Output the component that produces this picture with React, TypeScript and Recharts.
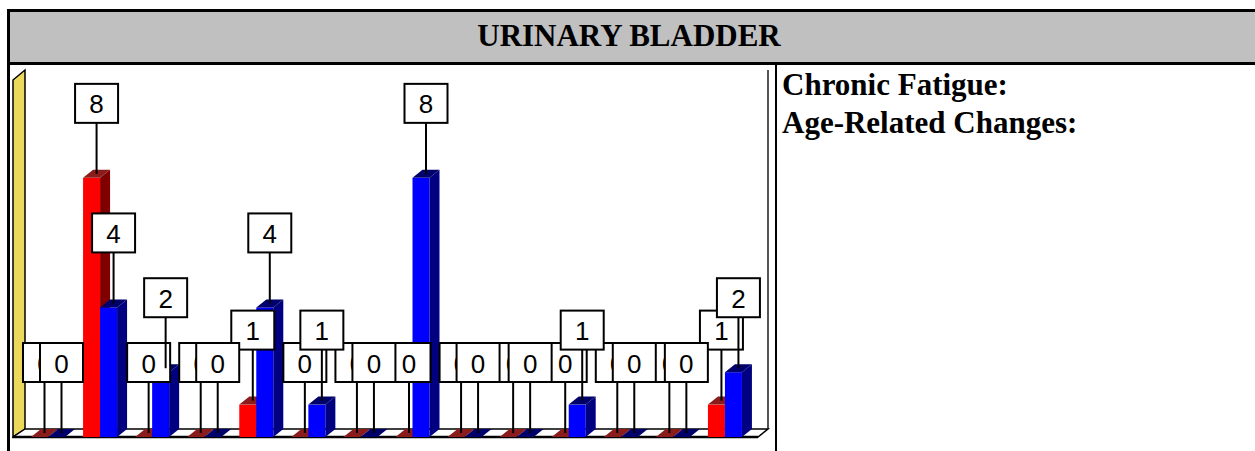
import { BarChart, Bar, XAxis, YAxis, LabelList } from "recharts"

// one entry per group on the chart floor, left to right
const categories = ["1", "2", "3", "4", "5", "6", "7", "8", "9", "10", "11", "12", "13", "14"]
const redValues = [0, 8, 0, 0, 1, 0, 0, 0, 0, 0, 0, 0, 0, 1]
const blueValues = [0, 4, 2, 0, 4, 1, 0, 8, 0, 0, 1, 0, 0, 2]
const TITLE = "URINARY BLADDER"
const notes = ["Chronic Fatigue:", "Age-Related Changes:"]

const data = categories.map((name, i) => ({ name, red: redValues[i], blue: blueValues[i] }))

const CHART_W = 763
const CHART_H = 385
const MARGIN = { top: 4, right: 24, bottom: 14, left: 10 }
const Y_MAX = 11.33
const DX = 10
const DY = 8

const RED = { front: "#ff0000", side: "#800000", top: "#8a1c1c" }
const BLUE = { front: "#0000ff", side: "#000080", top: "#00006a" }

const serif = "'Liberation Serif', 'Times New Roman', serif"

function Bar3D(props: any) {
  const { x, y, width: w, height: h, colors } = props
  if (x == null || y == null) return <g />
  return (
    <g>
      <rect x={x} y={y} width={w} height={h} fill={colors.front} />
      <polygon
        points={`${x + w},${y} ${x + w + DX},${y - DY} ${x + w + DX},${y + h - DY} ${x + w},${y + h}`}
        fill={colors.side}
      />
      <polygon
        points={`${x},${y} ${x + DX},${y - DY} ${x + w + DX},${y - DY} ${x + w},${y}`}
        fill={colors.top}
      />
    </g>
  )
}

function Callout(props: any) {
  const vb = props.viewBox ?? props
  const x = vb.x ?? props.x
  const y = vb.y ?? props.y
  const w = vb.width ?? props.width
  const cx = x + w / 2 + DX / 2
  const boxBottom = y - 55
  const bw = 43
  const bh = 39
  return (
    <g>
      <line x1={cx} x2={cx} y1={boxBottom} y2={y - DY / 2} stroke="#000" strokeWidth={2} />
      <rect x={cx - bw / 2} y={boxBottom - bh} width={bw} height={bh} fill="#fff" stroke="#000" strokeWidth={2} />
      <text
        x={cx}
        y={boxBottom - bh / 2 + 1}
        textAnchor="middle"
        dominantBaseline="central"
        fontSize={26}
        fontFamily="'Liberation Sans', Arial, sans-serif"
        fill="#000"
      >
        {props.value}
      </text>
    </g>
  )
}

// floor and walls behind the bars, in the chart's own coordinates
function Backdrop() {
  const floorFront = CHART_H - MARGIN.bottom
  const floorBack = floorFront - DY
  const leftFront = MARGIN.left - 9
  const leftBack = leftFront + 12
  const rightFront = CHART_W - MARGIN.right + 7
  const rightBack = rightFront + DX
  return (
    <svg width={CHART_W} height={CHART_H} style={{ position: "absolute", left: 0, top: 0 }}>
      <line x1={rightBack} x2={rightBack} y1={MARGIN.top} y2={floorBack} stroke="#555" strokeWidth={2} />
      <polygon
        points={`${leftFront},${MARGIN.top + 10} ${leftBack},${MARGIN.top} ${leftBack},${floorBack} ${leftFront},${floorFront}`}
        fill="#ecd95c"
        stroke="#000"
        strokeWidth={1.5}
      />
      <polygon
        points={`${leftFront},${floorFront} ${rightFront},${floorFront} ${rightBack},${floorBack} ${leftBack},${floorBack}`}
        fill="#fff"
        stroke="#000"
        strokeWidth={1.5}
      />
      <line x1={leftFront} x2={rightFront} y1={floorFront} y2={floorFront} stroke="#000" strokeWidth={2.5} />
    </svg>
  )
}

function Chart3D({ labels }: { labels: boolean }) {
  const empty = () => <g />
  return (
    <BarChart width={CHART_W} height={CHART_H} data={data} margin={MARGIN} barSize={17} barGap={0}>
      <XAxis dataKey="name" hide />
      <YAxis hide domain={[0, Y_MAX]} allowDataOverflow />
      <Bar
        dataKey="red"
        isAnimationActive={false}
        shape={labels ? empty : (p: any) => <Bar3D {...p} colors={RED} />}
      >
        {labels && <LabelList dataKey="red" content={Callout} />}
      </Bar>
      <Bar
        dataKey="blue"
        isAnimationActive={false}
        shape={labels ? empty : (p: any) => <Bar3D {...p} colors={BLUE} />}
      >
        {labels && <LabelList dataKey="blue" content={Callout} />}
      </Bar>
    </BarChart>
  )
}

export default function App() {
  return (
    <div style={{ position: "absolute", left: 0, top: 0, width: 1255, height: 451, overflow: "hidden", background: "#fff" }}>
      <div
        style={{
          position: "absolute",
          left: 7,
          top: 9,
          width: 1300,
          height: 500,
          border: "3px solid #000",
          boxSizing: "border-box",
        }}
      />
      <div
        style={{
          position: "absolute",
          left: 10,
          top: 12,
          width: 1300,
          height: 53,
          background: "#c0c0c0",
          borderBottom: "3px solid #000",
          boxSizing: "border-box",
        }}
      />
      <div
        style={{
          position: "absolute",
          left: 10,
          top: 11,
          width: 1238,
          height: 50,
          lineHeight: "50px",
          textAlign: "center",
          fontFamily: serif,
          fontWeight: "bold",
          fontSize: 31,
          color: "#000",
        }}
      >
        {TITLE}
      </div>
      <div style={{ position: "absolute", left: 775, top: 65, width: 2, height: 400, background: "#000" }} />
      <div
        style={{
          position: "absolute",
          left: 782,
          top: 65.5,
          fontFamily: serif,
          fontWeight: "bold",
          fontSize: 31,
          lineHeight: "38px",
          color: "#000",
          whiteSpace: "nowrap",
        }}
      >
        {notes.map((n) => (
          <div key={n}>{n}</div>
        ))}
      </div>
      <div style={{ position: "absolute", left: 12, top: 66, width: CHART_W, height: CHART_H }}>
        <Backdrop />
        <div style={{ position: "absolute", left: 0, top: 0 }}>
          <Chart3D labels={false} />
        </div>
        <div style={{ position: "absolute", left: 0, top: 0 }}>
          <Chart3D labels={true} />
        </div>
      </div>
    </div>
  )
}
